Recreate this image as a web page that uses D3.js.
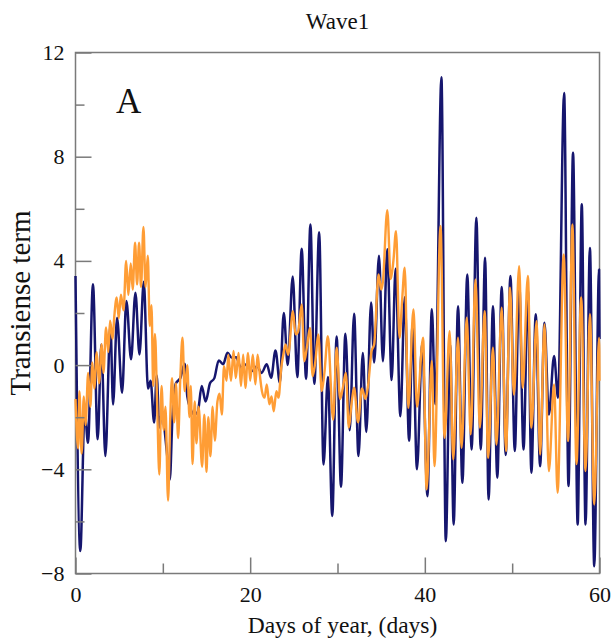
<!DOCTYPE html>
<html>
<head>
<meta charset="utf-8">
<script src="https://cdn.jsdelivr.net/npm/d3@7/dist/d3.min.js"></script>
<style>
  html, body { margin: 0; padding: 0; background: #ffffff; }
  svg { display: block; }
  text { font-family: "Liberation Serif", "DejaVu Serif", serif; fill: #111; }
</style>
</head>
<body>
<svg id="chart" width="614" height="639"></svg>
<script>
// ---------------- data (turning points) ----------------
const chartTitle = "Wave1";
const xLabel = "Days of year, (days)";
const yLabel = "Transiense term";
const panelLabel = "A";

const xTicks = [0, 20, 40, 60];
const xMinorTicks = [10, 30, 50];
const yTicks = [-8, -4, 0, 4, 8, 12];
const yMinorTicks = [-6, -2, 2, 6, 10];

// navy series
const navyDays = [0, 0.55, 1.05, 1.43, 2.0, 2.54, 2.96, 3.42, 4.0, 4.3, 4.76, 5.33, 5.83, 6.36, 6.86, 7.32, 7.82, 8.3, 8.6, 9.0, 9.3, 9.6, 9.9, 10.1, 10.45, 10.8, 11.1, 11.5, 12.0, 12.5, 12.8, 13.2, 13.6, 14.0, 14.45, 14.9, 15.4, 15.9, 16.4, 16.9, 17.4, 17.9, 18.4, 18.95, 19.6, 20.2, 20.8, 21.3, 21.9, 22.4, 22.9, 23.4, 23.85, 24.3, 24.87, 25.4, 25.9, 26.4, 26.9, 27.35, 27.9, 28.4, 28.9, 29.4, 29.9, 30.4, 30.9, 31.4, 31.9, 32.4, 32.9, 33.3, 33.85, 34.2, 34.75, 35.2, 35.7, 36.2, 36.65, 37.2, 37.7, 38.2, 38.6, 39.1, 39.7, 40.3, 40.8, 41.2, 41.9, 42.4, 42.9, 43.3, 43.8, 44.3, 44.86, 45.36, 45.9, 46.4, 46.9, 47.3, 47.8, 48.3, 48.8, 49.26, 49.8, 50.3, 50.8, 51.3, 51.8, 52.2, 52.7, 53.2, 53.7, 54.2, 54.8, 55.25, 55.95, 56.45, 56.97, 57.5, 57.97, 58.4, 58.9, 59.4, 59.95, 60];
const navyValues = [3.42, -7.14, -1.7, -2.98, 3.1, -2.85, 0.79, -3.49, 1.56, -1.51, 1.82, -1.06, 2.46, 0.22, 2.78, 0.41, 3.2, -0.9, -0.6, -2.2, -0.4, -2.4, -1.8, -2.2, -3.3, -4.4, -2.0, -0.7, -0.5, 0.05, -1.2, -1.7, -1.9, -1.8, -0.8, -1.4, -0.7, -0.5, 0.18, 0.03, 0.47, 0.28, 0.3, -0.1, 0.03, -0.23, -0.04, -0.3, 0.03, -0.49, 0.56, -0.68, 2.0, 0.0, 3.4, -0.46, 4.47, -0.53, 5.4, -0.72, 5.1, -3.82, -0.46, -5.79, 1.1, -4.67, 1.2, -2.5, 1.97, -3.49, 0.46, -2.57, 2.4, 0.1, 4.2, 0.15, 4.45, -0.57, 3.7, -1.96, 2.6, -2.9, 1.57, -4.0, 0.86, -5.03, 2.14, -1.5, 11.05, -6.76, 0.79, -6.12, 2.26, -4.52, 3.48, -3.24, 5.66, -3.24, 4.12, -5.16, 2.26, -4.32, 3.0, -3.45, 3.42, -3.3, 3.2, -3.24, 2.9, -4.13, 1.95, -3.88, 1.63, -1.9, 0.35, -1.25, 10.45, -4.64, 8.15, -6.12, 6.17, -6.12, 4.5, -7.72, 3.67, 1.0];

// orange series
const orangeDays = [0, 0.3, 0.45, 0.7, 0.95, 1.15, 1.45, 1.7, 1.93, 2.15, 2.43, 2.7, 3.0, 3.2, 3.5, 3.75, 3.96, 4.25, 4.45, 4.72, 4.95, 5.2, 5.5, 5.8, 6.05, 6.33, 6.55, 6.82, 7.05, 7.28, 7.5, 7.78, 8.02, 8.28, 8.5, 8.7, 8.9, 9.1, 9.35, 9.6, 9.85, 10.1, 10.3, 10.6, 10.85, 11.05, 11.3, 11.5, 11.75, 12.0, 12.25, 12.5, 12.8, 13.05, 13.2, 13.4, 13.65, 13.85, 14.1, 14.5, 14.75, 15.0, 15.2, 15.45, 15.7, 15.95, 16.25, 16.5, 16.76, 17.0, 17.3, 17.5, 17.8, 18.1, 18.35, 18.67, 18.95, 19.2, 19.45, 19.76, 20.0, 20.3, 20.6, 20.85, 21.1, 21.35, 21.65, 21.9, 22.2, 22.45, 22.7, 23.0, 23.25, 23.56, 23.8, 24.05, 24.35, 24.9, 25.2, 25.5, 25.9, 26.2, 26.5, 26.85, 27.15, 27.45, 27.8, 28.2, 28.5, 28.9, 29.5, 29.9, 30.3, 30.6, 30.95, 31.3, 31.6, 31.9, 32.35, 32.8, 33.2, 33.5, 33.9, 34.2, 34.7, 35.0, 35.2, 35.7, 36.1, 36.4, 36.7, 37.1, 37.4, 37.7, 38.1, 38.7, 39.1, 39.8, 40.2, 40.8, 41.1, 41.8, 42.25, 42.84, 43.25, 43.8, 44.2, 44.8, 45.25, 45.8, 46.3, 46.85, 47.25, 47.8, 48.2, 48.8, 49.3, 49.75, 50.2, 50.8, 51.2, 51.8, 52.2, 52.8, 53.2, 53.7, 54.2, 54.8, 55.2, 55.9, 56.4, 56.9, 57.36, 57.9, 58.4, 58.9, 59.4, 59.95, 60];
const orangeValues = [-1.3, -3.2, -1.0, -3.4, -1.2, -2.3, -0.3, -1.6, 0.1, -0.9, 0.5, -0.7, 0.8, -0.3, 1.45, 0.5, 1.7, 1.0, 1.9, 2.6, 1.8, 2.7, 2.1, 4.0, 2.7, 3.9, 2.9, 4.7, 3.1, 4.7, 3.0, 5.3, 3.0, 4.2, 1.5, 2.3, -0.8, 1.2, -1.5, -4.2, -0.8, -2.5, -1.6, -5.2, -2.0, -0.5, -2.2, -0.7, -2.8, -0.5, 1.05, -1.0, 0.0, -2.0, -0.8, -3.8, -1.4, -3.0, -1.6, -3.9, -1.9, -4.1, -2.0, -3.5, -1.6, -2.9, -1.4, -1.1, -1.9, -0.04, -0.6, 0.4, -0.6, 0.54, -0.5, 0.47, -0.8, 0.4, -0.87, 0.47, -0.6, 0.4, -0.74, 0.4, -0.36, -1.0, -1.25, -0.74, -1.5, -1.2, -1.77, -1.0, -1.25, -0.1, 0.4, 0.79, 0.4, 2.07, 1.18, 1.3, 2.33, 0.15, 0.7, 1.43, -0.42, 0.1, 1.18, -1.0, -0.3, 1.11, -2.1, 0.67, -1.3, -0.9, -0.3, -2.4, -1.5, -0.87, -2.2, -0.9, -1.3, -0.8, 0.54, 0.8, 3.48, 2.9, 3.2, 5.95, 3.3, 4.0, 5.14, 1.05, 2.5, 3.74, -1.64, 2.14, -1.6, 1.05, -4.77, 0.15, -3.88, 5.34, -2.79, 1.3, -3.62, 1.05, -3.17, 1.82, -2.66, 3.29, -2.4, 2.07, -3.56, 0.67, -3.05, 2.2, -3.3, 2.97, -1.13, 3.8, -0.87, 3.42, -2.4, 1.69, -3.43, 1.56, -4.07, -0.74, -4.9, 4.25, -2.92, 5.4, -3.8, 2.6, -4.07, 1.95, -5.35, 1.05, -0.6];

// ---------------- drawing ----------------
const svg = d3.select("#chart");
const plotLeft = 75.5, plotRight = 599.5, plotTop = 52.5, plotBottom = 573.5;
const serif = "'Liberation Serif', 'Times New Roman', 'DejaVu Serif', serif";

const x = d3.scaleLinear().domain([0, 60]).range([plotLeft, plotRight]);
const y = d3.scaleLinear().domain([-8, 12]).range([plotBottom, plotTop]);

const axisColor = "#7a7a7a";

// frame
svg.append("rect")
  .attr("x", plotLeft).attr("y", plotTop)
  .attr("width", plotRight - plotLeft).attr("height", plotBottom - plotTop)
  .attr("fill", "none").attr("stroke", axisColor).attr("stroke-width", 1.5);

// series
const line = d3.line()
  .x(d => x(d[0]))
  .y(d => y(d[1]))
  .curve(d3.curveMonotoneX);

const plot = svg.append("g");
plot.append("path")
  .datum(navyDays.map((d, i) => [d, navyValues[i]]))
  .attr("d", line)
  .attr("fill", "none")
  .attr("stroke", "#16166e")
  .attr("stroke-width", 2.5)
  .attr("stroke-linejoin", "round");

plot.append("path")
  .datum(orangeDays.map((d, i) => [d, orangeValues[i]]))
  .attr("d", line)
  .attr("fill", "none")
  .attr("stroke", "#ff9d35")
  .attr("stroke-width", 2.4)
  .attr("stroke-linejoin", "round");

// axes with inward ticks
const xAxis = d3.axisBottom(x).tickValues(xTicks).tickSize(-16).tickPadding(13).tickFormat(d3.format("d"));
const xAxisMinor = d3.axisBottom(x).tickValues(xMinorTicks).tickSize(-10).tickFormat("");
const yAxis = d3.axisLeft(y).tickValues(yTicks).tickSize(-16).tickPadding(11).tickFormat(d3.format("d"));
const yAxisMinor = d3.axisLeft(y).tickValues(yMinorTicks).tickSize(-9).tickFormat("");

function styleAxis(g) {
  g.select(".domain").remove();
  g.selectAll(".tick line").attr("stroke", axisColor).attr("stroke-width", 1.5);
  g.selectAll(".tick text")
    .attr("fill", "#111")
    .style("font-family", serif)
    .style("font-size", "22px");
}

svg.append("g").attr("transform", `translate(0,${plotBottom})`).call(xAxis).call(styleAxis);
svg.append("g").attr("transform", `translate(0,${plotBottom})`).call(xAxisMinor).call(styleAxis);
svg.append("g").attr("transform", `translate(${plotLeft},0)`).call(yAxis).call(styleAxis);
svg.append("g").attr("transform", `translate(${plotLeft},0)`).call(yAxisMinor).call(styleAxis);

// texts
svg.append("text")
  .attr("x", (plotLeft + plotRight) / 2).attr("y", 29)
  .attr("text-anchor", "middle")
  .style("font-family", serif)
  .style("font-size", "23px")
  .text(chartTitle);

svg.append("text")
  .attr("x", (plotLeft + plotRight) / 2 + 5).attr("y", 633)
  .attr("text-anchor", "middle")
  .style("font-family", serif)
  .style("font-size", "23.5px")
  .text(xLabel);

svg.append("text")
  .attr("transform", `translate(30,303) rotate(-90)`)
  .attr("text-anchor", "middle")
  .style("font-family", serif)
  .style("font-size", "29px")
  .text(yLabel);

svg.append("text")
  .attr("x", 116).attr("y", 113)
  .style("font-family", serif)
  .style("font-size", "35px")
  .text(panelLabel);
</script>
</body>
</html>
